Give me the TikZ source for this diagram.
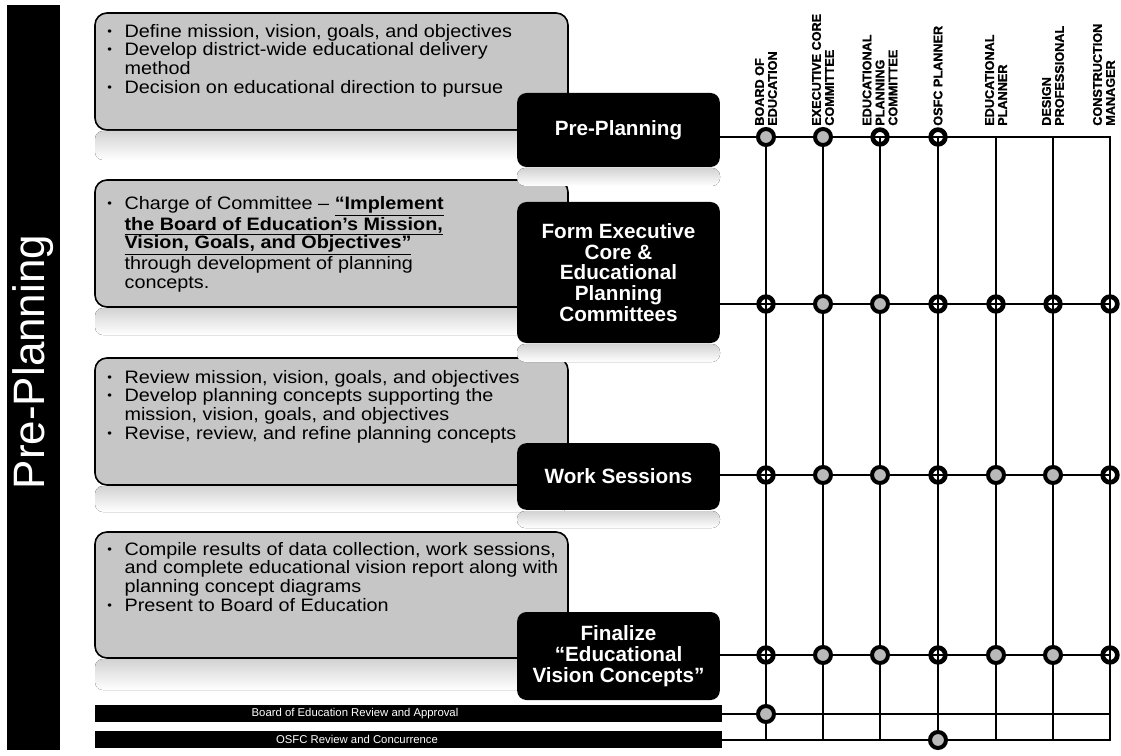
\documentclass[tikz,border=0pt]{standalone}
\usepackage{fontspec}
\setmainfont{Liberation Sans}
\newfontfamily\taskfont{Liberation Sans}[FakeStretch=1.1]
\newfontfamily\headfont{Liberation Sans Bold}[FakeBold=1.2]
\newcommand{\bl}{\makebox[13pt][l]{\raisebox{1.5pt}{\fontsize{9}{9}\selectfont\textbullet}}}
\newcommand{\ind}{\hspace*{13pt}}
\newcommand{\bu}[1]{\underline{\textbf{#1}}}

\begin{document}
\begin{tikzpicture}[x=0.75pt,y=-0.75pt,
    task/.style={draw=black,line width=1.2pt,fill=gray!45,rounded corners=9pt},
    mirror/.style={top color=gray!35,bottom color=white,rounded corners=6pt},
    tasktext/.style={anchor=north west,align=left,inner sep=0pt,font=\taskfont\fontsize{13.5}{14}\selectfont},
    phase/.style={fill=black,rounded corners=7pt,text=white,align=center,minimum width=152pt,font=\fontsize{15.5}{15.5}\selectfont\bfseries},
    bar/.style={fill=black,minimum width=470pt,minimum height=12.75pt,inner sep=0pt},
    bartext/.style={text=white,font=\fontsize{8.5}{9}\selectfont},
    head/.style={rotate=90,anchor=west,align=left,inner sep=0pt,font=\headfont\fontsize{9.5}{9.75}\selectfont},
    wire/.style={line width=2pt,line cap=rect},
    lead/.style={circle,draw=black,line width=3pt,fill=gray!55,minimum size=12pt,inner sep=0pt},
    part/.style={circle,draw=black,line width=3.5pt,minimum size=11pt,inner sep=0pt}]
    \useasboundingbox (0,0) rectangle (1121,756);
    % Side title ==============================================
    \fill[black] (7,5) rectangle (60,750);
    \node[rotate=90,text=white,font=\fontsize{33}{33}\selectfont] (title) at (33,362) {Pre-Planning};
    % Tasks ===================================================
    \draw[task] (95,13) rectangle (568,130);  \fill[mirror] (95,131) rectangle (568,160);
    \draw[task] (95,180) rectangle (568,307); \fill[mirror] (95,308) rectangle (568,335);
    \draw[task] (95,358) rectangle (568,485); \fill[mirror] (95,486) rectangle (568,512);
    \draw[task] (95,532) rectangle (568,658); \fill[mirror] (95,659) rectangle (568,690);
    \node[tasktext] (t1) at (107,24) {\bl Define mission, vision, goals, and objectives\\
        \bl Develop district-wide educational delivery\\ \ind method\\
        \bl Decision on educational direction to pursue};
    \node[tasktext] (t2) at (107,196) {\bl Charge of Committee – \bu{“Implement}\\
        \ind\bu{the Board of Education’s Mission,}\\ \ind\bu{Vision, Goals, and Objectives”}\\
        \ind through development of planning\\ \ind concepts.};
    \node[tasktext] (t3) at (107,370) {\bl Review mission, vision, goals, and objectives\\
        \bl Develop planning concepts supporting the\\ \ind mission, vision, goals, and objectives\\
        \bl Revise, review, and refine planning concepts};
    \node[tasktext] (t4) at (107,542) {\bl Compile results of data collection, work sessions,\\
        \ind and complete educational vision report along with\\ \ind planning concept diagrams\\
        \bl Present to Board of Education};
    % Phases ==================================================
    \fill[mirror] (517,168) rectangle (720,186);
    \fill[mirror] (517,344) rectangle (720,362);
    \fill[mirror] (517,511) rectangle (720,528);
    \node[phase,minimum height=55.5pt]  (pp) at (618.5,130)   {Pre-Planning};
    \node[phase,minimum height=105.75pt] (fe) at (618.5,272.5) {Form Executive\\Core \&\\Educational\\Planning\\Committees};
    \node[phase,minimum height=50pt]    (ws) at (618.5,476.5) {Work Sessions};
    \node[phase,minimum height=66pt]    (fv) at (618.5,656)   {Finalize\\“Educational\\Vision Concepts”};
    \node[bar] (ba) at (408.5,713.5) {};
    \node[bar] (oa) at (408.5,739)   {};
    \node[bartext] (bat) at (355,713.5) {Board of Education Review and Approval};
    \node[bartext] (oat) at (357,739)   {OSFC Review and Concurrence};
    % Matrix ==================================================
    \coordinate (c1) at (766,137);  \coordinate (c2) at (823,137);
    \coordinate (c3) at (880,137);  \coordinate (c4) at (938,137);
    \coordinate (c5) at (996,137);  \coordinate (c6) at (1053,137);
    \coordinate (c7) at (1110,137);
    \coordinate (r2) at (1110,304); \coordinate (r3) at (1110,475);
    \coordinate (r4) at (1110,655); \coordinate (r5) at (1110,714);
    \coordinate (r6) at (1110,740);
    \draw[wire] (pp.east |- c7) -- (c7);
    \draw[wire] (fe.east |- r2) -- (r2);
    \draw[wire] (ws.east |- r3) -- (r3);
    \draw[wire] (fv.east |- r4) -- (r4);
    \draw[wire] (ba.east |- r5) -- (r5);
    \draw[wire] (oa.east |- r6) -- (r6);
    \draw[wire] (c1) -- (c1 |- r6); \draw[wire] (c2) -- (c2 |- r6);
    \draw[wire] (c3) -- (c3 |- r6); \draw[wire] (c4) -- (c4 |- r6);
    \draw[wire] (c5) -- (c5 |- r6); \draw[wire] (c6) -- (c6 |- r6);
    \draw[wire] (c7) -- (r6);
    % Roles ===================================================
    \node[head] (hboe) at (766,126)  {BOARD OF\\EDUCATION};
    \node[head] (hecc) at (823,126)  {EXECUTIVE CORE\\COMMITTEE};
    \node[head] (hepc) at (880,126)  {EDUCATIONAL\\PLANNING\\COMMITTEE};
    \node[head] (hosf) at (938,126)  {OSFC PLANNER};
    \node[head] (hedp) at (996,126)  {EDUCATIONAL\\PLANNER};
    \node[head] (hdes) at (1053,126) {DESIGN\\PROFESSIONAL};
    \node[head] (hcon) at (1104,126) {CONSTRUCTION\\MANAGER};
    % Pre-Planning
    \node[lead] (pp1) at (c1) {}; \node[lead] (pp2) at (c2) {};
    \node[part] (pp3) at (c3) {}; \node[part] (pp4) at (c4) {};
    % Form committees
    \node[part] (fe1) at (c1 |- r2) {}; \node[lead] (fe2) at (c2 |- r2) {};
    \node[lead] (fe3) at (c3 |- r2) {}; \node[part] (fe4) at (c4 |- r2) {};
    \node[part] (fe5) at (c5 |- r2) {}; \node[part] (fe6) at (c6 |- r2) {};
    \node[part] (fe7) at (r2) {};
    % Work sessions
    \node[part] (ws1) at (c1 |- r3) {}; \node[lead] (ws2) at (c2 |- r3) {};
    \node[lead] (ws3) at (c3 |- r3) {}; \node[part] (ws4) at (c4 |- r3) {};
    \node[lead] (ws5) at (c5 |- r3) {}; \node[lead] (ws6) at (c6 |- r3) {};
    \node[part] (ws7) at (r3) {};
    % Finalize
    \node[part] (fv1) at (c1 |- r4) {}; \node[lead] (fv2) at (c2 |- r4) {};
    \node[lead] (fv3) at (c3 |- r4) {}; \node[part] (fv4) at (c4 |- r4) {};
    \node[lead] (fv5) at (c5 |- r4) {}; \node[lead] (fv6) at (c6 |- r4) {};
    \node[part] (fv7) at (r4) {};
    % Reviews
    \node[lead] (ba1) at (c1 |- r5) {};
    \node[lead] (oa4) at (c4 |- r6) {};
\end{tikzpicture}
\end{document}
